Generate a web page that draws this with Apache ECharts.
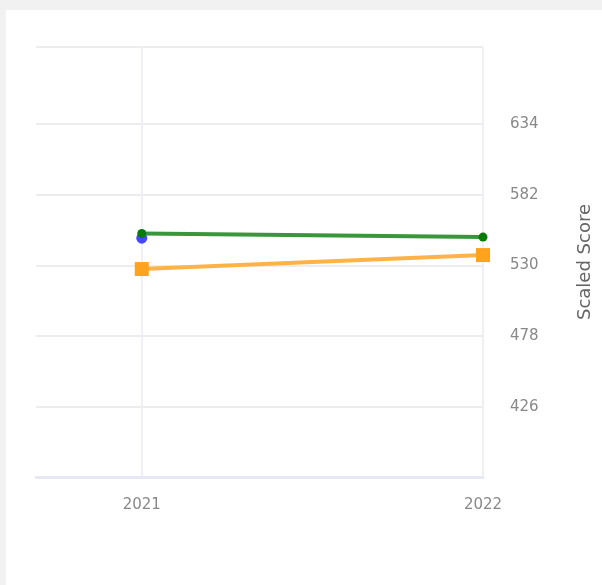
<!DOCTYPE html>
<html><head><meta charset="utf-8">
<script src="https://cdn.jsdelivr.net/npm/echarts@6/dist/echarts.min.js"></script>
<style>html,body{margin:0;padding:0;background:#f1f1f1;}#wrap{position:absolute;left:6px;top:10px;width:596px;height:575px;background:#fff;overflow:hidden;}#c{width:602px;height:585px;position:absolute;left:-6px;top:-10px;}</style>
</head><body><div id="wrap"><div id="c"></div></div>
<script>
const years = [2021, 2022];
const greenVals = [553.5, 550.8];
const orangeVals = [527.3, 537.6];
const blueVals = [550.0];
const yTicks = [426, 478, 530, 582, 634];
const yMin = 374.5;
const yMax = 690.5;

const chart = echarts.init(document.getElementById('c'), null, {renderer: 'canvas'});
chart.setOption({
  backgroundColor: 'transparent',
  animation: false,
  grid: {left: 36, right: 117, top: 47, bottom: 108},
  xAxis: {
    type: 'value', min: 2020.69, max: 2022,
    axisLine: {show: true, lineStyle: {color: '#e6e9f4', width: 3}},
    axisTick: {show: false, customValues: years},
    axisLabel: {customValues: years, formatter: v => String(v), color: '#888', fontSize: 15, margin: 21, fontFamily: 'DejaVu Sans'},
    splitLine: {show: true, lineStyle: {color: '#eef0f5', width: 2}}
  },
  yAxis: {
    type: 'value', position: 'right', min: yMin, max: yMax,
    name: 'Scaled Score', nameLocation: 'middle', nameGap: 93,
    nameTextStyle: {color: '#666', fontSize: 18, fontFamily: 'DejaVu Sans'},
    axisLine: {show: false},
    axisTick: {show: false, customValues: yTicks.concat([yMax])},
    axisLabel: {customValues: yTicks, color: '#888', fontSize: 15, margin: 27, fontFamily: 'DejaVu Sans'},
    splitLine: {show: true, lineStyle: {color: '#ededed', width: 2}}
  },
  series: [
    {type: 'scatter', data: years.slice(0,1).map((y,i)=>[y, blueVals[i]]), symbol: 'circle', symbolSize: 11, itemStyle: {color: '#1a1aff'}, z: 1},
    {type: 'line', data: years.map((y,i)=>[y, orangeVals[i]]), symbol: 'rect', symbolSize: 14, lineStyle: {color: '#ffb347', width: 4}, itemStyle: {color: '#ffa31f'}, z: 2},
    {type: 'line', data: years.map((y,i)=>[y, greenVals[i]]), symbol: 'circle', symbolSize: 9, lineStyle: {color: '#3a963a', width: 4}, itemStyle: {color: '#0a7a0a'}, z: 3}
  ]
});
</script></body></html>
